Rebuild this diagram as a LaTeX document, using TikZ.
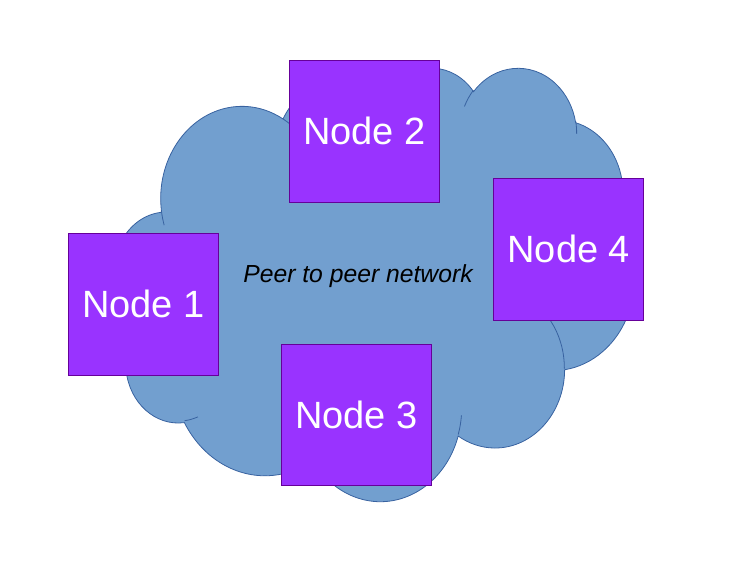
\documentclass[tikz,border=0pt]{standalone}
\usepackage{fontspec}
\setmainfont{Liberation Sans}
\usepackage{xcolor}
\definecolor{cloudblue}{RGB}{114,159,207}
\definecolor{cloudedge}{RGB}{56,98,160}
\definecolor{peerpurple}{RGB}{153,51,255}
\definecolor{peeredge}{RGB}{102,0,153}

\begin{document}
\begin{tikzpicture}[x=1pt, y=1pt,
    peer/.style={fill=peerpurple, draw=peeredge, line width=0.8pt, minimum width=150pt, minimum height=141.5pt, inner sep=0pt, text=white, font=\fontsize{38}{46}\selectfont},
    cloudline/.style={draw=cloudedge, line width=0.8pt}]
                \useasboundingbox (0,0) rectangle (744,571);

                % Cloud outline
                \draw[cloudline, fill=cloudblue] (161.44,360.05)
                    arc[start angle=-172.25, delta angle=-128.11, x radius=81.27pt, y radius=92.18pt]
                    arc[start angle=152.05, delta angle=-106.64, x radius=64.18pt, y radius=72.90pt]
                    arc[start angle=153.49, delta angle=-116.14, x radius=52.53pt, y radius=59.63pt]
                    arc[start angle=139.71, delta angle=-129.50, x radius=58.45pt, y radius=66.15pt]
                    arc[start angle=74.77, delta angle=-97.98, x radius=64.18pt, y radius=72.96pt]
                    arc[start angle=37.51, delta angle=-119.37, x radius=81.54pt, y radius=92.49pt]
                    arc[start angle=-0.46, delta angle=-121.52, x radius=69.62pt, y radius=78.91pt]
                    arc[start angle=-16.84, delta angle=-129.38, x radius=81.26pt, y radius=92.44pt]
                    arc[start angle=-58.99, delta angle=-91.19, x radius=92.91pt, y radius=105.76pt]
                    arc[start angle=-83.31, delta angle=-139.76, x radius=52.47pt, y radius=59.36pt]
                    arc[start angle=-120.36, delta angle=-143.75, x radius=52.29pt, y radius=59.63pt]
                    -- cycle;

                % Inner lobe strokes
                \draw[cloudline]
                    (170.98,241.62) arc[start angle=-85.55, delta angle=-34.81, x radius=52.29pt, y radius=59.63pt]
                    (197.88,154.13) arc[start angle=-68.23, delta angle=-15.08, x radius=52.47pt, y radius=59.36pt]
                    (312.81,112.09) arc[start angle=-146.22, delta angle=-12.26, x radius=81.26pt, y radius=92.44pt]
                    (461.43,155.61) arc[start angle=-4.74, delta angle=-12.10, x radius=81.26pt, y radius=92.44pt]
                    (525.24,273.95) arc[start angle=64.03, delta angle=-64.49, x radius=69.62pt, y radius=78.91pt]
                    (617.54,350.18) arc[start angle=-23.21, delta angle=-26.44, x radius=64.18pt, y radius=72.96pt]
                    (575.73,449.77) arc[start angle=10.21, delta angle=-11.03, x radius=58.45pt, y radius=66.15pt]
                    (464.45,464.56) arc[start angle=156.28, delta angle=-16.57, x radius=58.45pt, y radius=66.15pt]
                    (380.97,456.85) arc[start angle=167.73, delta angle=-14.24, x radius=52.53pt, y radius=59.63pt]
                    (282.99,452.12) arc[start angle=59.64, delta angle=-13.89, x radius=81.27pt, y radius=92.18pt]
                    (164.17,345.82) arc[start angle=-163.19, delta angle=-9.06, x radius=81.27pt, y radius=92.18pt];

                % Network label
                \node[font=\fontsize{24.7}{30}\selectfont\itshape, anchor=base] (p2p) at (358,288.7) {Peer to peer network};

                % Peers
                \node[peer] (node1) at (143.5,266.7) {Node 1};
                \node[peer] (node2) at (364.3,439.8) {Node 2};
                \node[peer] (node3) at (356.5,156.3) {Node 3};
                \node[peer] (node4) at (568.8,321.8) {Node 4};
            \end{tikzpicture}
\end{document}
